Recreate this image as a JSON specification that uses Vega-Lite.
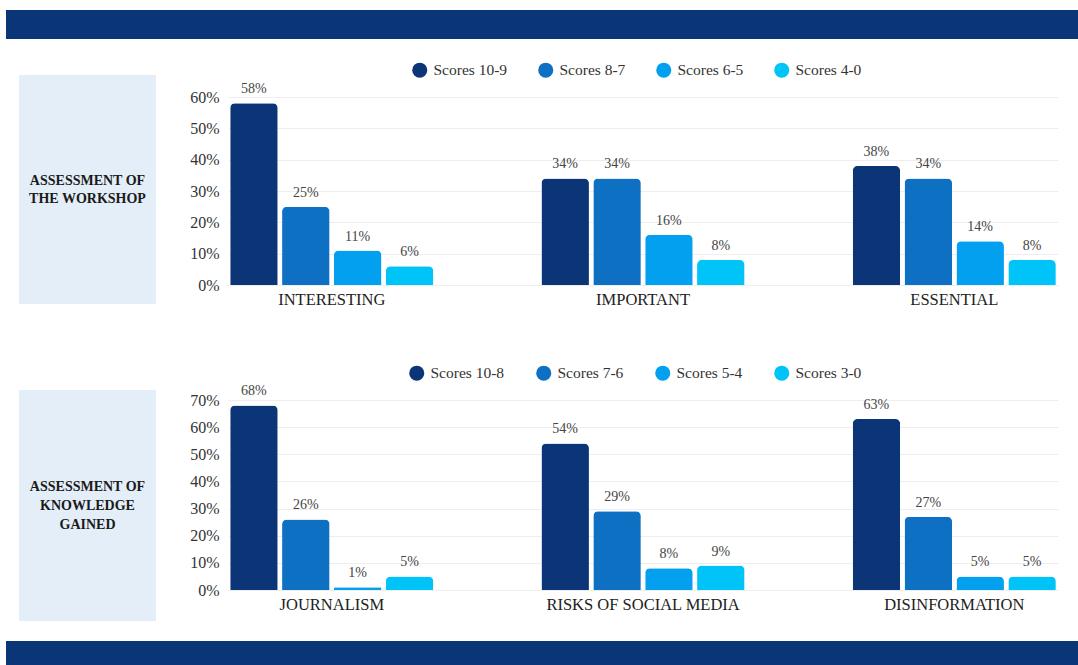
{
  "$schema": "https://vega.github.io/schema/vega-lite/v6.json",
  "padding": {"left": 6, "top": 10, "right": 0, "bottom": 0},
  "background": "white",
  "config": {
    "font": "Liberation Serif",
    "view": {"stroke": null},
    "axis": {"labelFont": "Liberation Serif"},
    "legend": {"labelFont": "Liberation Serif"}
  },
  "datasets": {
    "workshop": [
      {"category": "INTERESTING", "group": "Scores 10-9", "bar": "INTERESTING · Scores 10-9", "value": 0.58},
      {"category": "INTERESTING", "group": "Scores 8-7", "bar": "INTERESTING · Scores 8-7", "value": 0.25},
      {"category": "INTERESTING", "group": "Scores 6-5", "bar": "INTERESTING · Scores 6-5", "value": 0.11},
      {"category": "INTERESTING", "group": "Scores 4-0", "bar": "INTERESTING · Scores 4-0", "value": 0.06},
      {"category": "IMPORTANT", "group": "Scores 10-9", "bar": "IMPORTANT · Scores 10-9", "value": 0.34},
      {"category": "IMPORTANT", "group": "Scores 8-7", "bar": "IMPORTANT · Scores 8-7", "value": 0.34},
      {"category": "IMPORTANT", "group": "Scores 6-5", "bar": "IMPORTANT · Scores 6-5", "value": 0.16},
      {"category": "IMPORTANT", "group": "Scores 4-0", "bar": "IMPORTANT · Scores 4-0", "value": 0.08},
      {"category": "ESSENTIAL", "group": "Scores 10-9", "bar": "ESSENTIAL · Scores 10-9", "value": 0.38},
      {"category": "ESSENTIAL", "group": "Scores 8-7", "bar": "ESSENTIAL · Scores 8-7", "value": 0.34},
      {"category": "ESSENTIAL", "group": "Scores 6-5", "bar": "ESSENTIAL · Scores 6-5", "value": 0.14},
      {"category": "ESSENTIAL", "group": "Scores 4-0", "bar": "ESSENTIAL · Scores 4-0", "value": 0.08}
    ],
    "knowledge": [
      {"category": "JOURNALISM", "group": "Scores 10-8", "bar": "JOURNALISM · Scores 10-8", "value": 0.68},
      {"category": "JOURNALISM", "group": "Scores 7-6", "bar": "JOURNALISM · Scores 7-6", "value": 0.26},
      {"category": "JOURNALISM", "group": "Scores 5-4", "bar": "JOURNALISM · Scores 5-4", "value": 0.01},
      {"category": "JOURNALISM", "group": "Scores 3-0", "bar": "JOURNALISM · Scores 3-0", "value": 0.05},
      {"category": "RISKS OF SOCIAL MEDIA", "group": "Scores 10-8", "bar": "RISKS OF SOCIAL MEDIA · Scores 10-8", "value": 0.54},
      {"category": "RISKS OF SOCIAL MEDIA", "group": "Scores 7-6", "bar": "RISKS OF SOCIAL MEDIA · Scores 7-6", "value": 0.29},
      {"category": "RISKS OF SOCIAL MEDIA", "group": "Scores 5-4", "bar": "RISKS OF SOCIAL MEDIA · Scores 5-4", "value": 0.08},
      {"category": "RISKS OF SOCIAL MEDIA", "group": "Scores 3-0", "bar": "RISKS OF SOCIAL MEDIA · Scores 3-0", "value": 0.09},
      {"category": "DISINFORMATION", "group": "Scores 10-8", "bar": "DISINFORMATION · Scores 10-8", "value": 0.63},
      {"category": "DISINFORMATION", "group": "Scores 7-6", "bar": "DISINFORMATION · Scores 7-6", "value": 0.27},
      {"category": "DISINFORMATION", "group": "Scores 5-4", "bar": "DISINFORMATION · Scores 5-4", "value": 0.05},
      {"category": "DISINFORMATION", "group": "Scores 3-0", "bar": "DISINFORMATION · Scores 3-0", "value": 0.05}
    ]
  },
  "spacing": 0,
  "resolve": {"scale": {"color": "independent", "x": "independent", "y": "independent"}, "legend": {"color": "independent"}},
  "vconcat": [
    {
      "width": 1072, "height": 29,
      "view": {"fill": "#0a3678", "stroke": null},
      "data": {"values": [{}]},
      "mark": {"type": "text", "text": "", "fontSize": 0}
    },
    {
      "width": 1, "height": 22,
      "data": {"values": [{}]},
      "mark": {"type": "text", "text": "", "fontSize": 0}
    },
    {
      "spacing": 0,
      "resolve": {"scale": {"color": "independent", "x": "independent", "y": "independent"}, "legend": {"color": "independent"}},
      "hconcat": [
        {
          "width": 13, "height": 20,
          "data": {"values": [{}]},
          "mark": {"type": "text", "text": "", "fontSize": 0}
        },
        {
          "spacing": 0,
          "vconcat": [
            {
              "width": 1, "height": 14,
              "data": {"values": [{}]},
              "mark": {"type": "text", "text": "", "fontSize": 0}
            },
            {
              "width": 137, "height": 229,
              "view": {"fill": "#e3eef8", "stroke": null},
              "data": {"values": [{}]},
              "mark": {"type": "text", "text": ["ASSESSMENT OF", "THE WORKSHOP"], "font": "Liberation Serif", "fontWeight": "bold", "fontSize": 14, "lineHeight": 18, "dy": -9, "align": "center", "baseline": "middle", "color": "#1a1a1a"}
            }
          ]
        },
        {
          "width": 33, "height": 20,
          "data": {"values": [{}]},
          "mark": {"type": "text", "text": "", "fontSize": 0}
        },
        {
          "spacing": 0,
          "resolve": {"scale": {"color": "independent", "x": "independent", "y": "independent"}, "legend": {"color": "independent"}},
          "vconcat": [
            {
              "width": 1, "height": 1,
              "data": {"values": [{}]},
              "mark": {"type": "text", "text": "", "fontSize": 0}
            },
            {
              "width": 830, "height": 188,
              "data": {"name": "workshop"},
              "encoding": {
                "x": {"field": "bar", "type": "nominal",
                  "scale": {"domain": ["INTERESTING · Scores 10-9", "INTERESTING · Scores 8-7", "INTERESTING · Scores 6-5", "INTERESTING · Scores 4-0", "(gap a)", "(gap b)", "IMPORTANT · Scores 10-9", "IMPORTANT · Scores 8-7", "IMPORTANT · Scores 6-5", "IMPORTANT · Scores 4-0", "(gap c)", "(gap d)", "ESSENTIAL · Scores 10-9", "ESSENTIAL · Scores 8-7", "ESSENTIAL · Scores 6-5", "ESSENTIAL · Scores 4-0"], "paddingInner": 0, "paddingOuter": 0},
                  "axis": {"title": null, "values": ["INTERESTING · Scores 8-7", "IMPORTANT · Scores 8-7", "ESSENTIAL · Scores 8-7"], "labelExpr": "split(datum.value, ' · ')[0]", "labelOffset": 26, "labelAngle": 0, "ticks": false, "tickSize": 0, "domain": false, "grid": false, "labelPadding": 6, "labelFontSize": 16.5, "labelColor": "#222222", "labelLimit": 400}},
                "y": {"field": "value", "type": "quantitative",
                  "scale": {"domain": [0, 0.6], "nice": false},
                  "axis": {"title": null, "values": [0, 0.1, 0.2, 0.3, 0.4, 0.5, 0.6], "format": ".0%", "ticks": false, "tickSize": 0, "domain": false, "labelPadding": 9, "labelFontSize": 16, "labelColor": "#333333", "gridColor": "#eeeeee"}}
              },
              "layer": [
                {
                  "mark": {"type": "bar", "width": 47.5, "cornerRadiusTopLeft": 5, "cornerRadiusTopRight": 5},
                  "encoding": {
                    "color": {"field": "group", "type": "nominal",
                      "scale": {"domain": ["Scores 10-9", "Scores 8-7", "Scores 6-5", "Scores 4-0"], "range": ["#0b3577", "#0d70c2", "#04a0f0", "#00c4f8"]},
                      "legend": {"title": null, "orient": "none", "direction": "horizontal", "legendX": 184, "legendY": -35, "symbolType": "circle", "symbolSize": 225, "symbolStrokeWidth": 0, "labelFontSize": 15.5, "labelColor": "#333333", "labelOffset": 6, "columnPadding": 30}}
                  }
                },
                {
                  "mark": {"type": "text", "baseline": "bottom", "dy": -7, "fontSize": 14, "color": "#444444", "font": "Liberation Serif"},
                  "encoding": {"text": {"field": "value", "type": "quantitative", "format": ".0%"}}
                }
              ]
            }
          ]
        }
      ]
    },
    {
      "width": 1, "height": 56,
      "data": {"values": [{}]},
      "mark": {"type": "text", "text": "", "fontSize": 0}
    },
    {
      "spacing": 0,
      "resolve": {"scale": {"color": "independent", "x": "independent", "y": "independent"}, "legend": {"color": "independent"}},
      "hconcat": [
        {
          "width": 13, "height": 20,
          "data": {"values": [{}]},
          "mark": {"type": "text", "text": "", "fontSize": 0}
        },
        {
          "spacing": 0,
          "vconcat": [
            {
              "width": 1, "height": 26,
              "data": {"values": [{}]},
              "mark": {"type": "text", "text": "", "fontSize": 0}
            },
            {
              "width": 137, "height": 231,
              "view": {"fill": "#e3eef8", "stroke": null},
              "data": {"values": [{}]},
              "mark": {"type": "text", "text": ["ASSESSMENT OF", "KNOWLEDGE", "GAINED"], "font": "Liberation Serif", "fontWeight": "bold", "fontSize": 14, "lineHeight": 19, "dy": -19, "align": "center", "baseline": "middle", "color": "#1a1a1a"}
            }
          ]
        },
        {
          "width": 33, "height": 20,
          "data": {"values": [{}]},
          "mark": {"type": "text", "text": "", "fontSize": 0}
        },
        {
          "spacing": 0,
          "resolve": {"scale": {"color": "independent", "x": "independent", "y": "independent"}, "legend": {"color": "independent"}},
          "vconcat": [
            {
              "width": 1, "height": 1,
              "data": {"values": [{}]},
              "mark": {"type": "text", "text": "", "fontSize": 0}
            },
            {
              "width": 830, "height": 190,
              "data": {"name": "knowledge"},
              "encoding": {
                "x": {"field": "bar", "type": "nominal",
                  "scale": {"domain": ["JOURNALISM · Scores 10-8", "JOURNALISM · Scores 7-6", "JOURNALISM · Scores 5-4", "JOURNALISM · Scores 3-0", "(gap a)", "(gap b)", "RISKS OF SOCIAL MEDIA · Scores 10-8", "RISKS OF SOCIAL MEDIA · Scores 7-6", "RISKS OF SOCIAL MEDIA · Scores 5-4", "RISKS OF SOCIAL MEDIA · Scores 3-0", "(gap c)", "(gap d)", "DISINFORMATION · Scores 10-8", "DISINFORMATION · Scores 7-6", "DISINFORMATION · Scores 5-4", "DISINFORMATION · Scores 3-0"], "paddingInner": 0, "paddingOuter": 0},
                  "axis": {"title": null, "values": ["JOURNALISM · Scores 7-6", "RISKS OF SOCIAL MEDIA · Scores 7-6", "DISINFORMATION · Scores 7-6"], "labelExpr": "split(datum.value, ' · ')[0]", "labelOffset": 26, "labelAngle": 0, "ticks": false, "tickSize": 0, "domain": false, "grid": false, "labelPadding": 6, "labelFontSize": 16.5, "labelColor": "#222222", "labelLimit": 400}},
                "y": {"field": "value", "type": "quantitative",
                  "scale": {"domain": [0, 0.7], "nice": false},
                  "axis": {"title": null, "values": [0, 0.1, 0.2, 0.3, 0.4, 0.5, 0.6, 0.7], "format": ".0%", "ticks": false, "tickSize": 0, "domain": false, "labelPadding": 9, "labelFontSize": 16, "labelColor": "#333333", "gridColor": "#eeeeee"}}
              },
              "layer": [
                {
                  "mark": {"type": "bar", "width": 47.5, "cornerRadiusTopLeft": 5, "cornerRadiusTopRight": 5},
                  "encoding": {
                    "color": {"field": "group", "type": "nominal",
                      "scale": {"domain": ["Scores 10-8", "Scores 7-6", "Scores 5-4", "Scores 3-0"], "range": ["#0b3577", "#0d70c2", "#04a0f0", "#00c4f8"]},
                      "legend": {"title": null, "orient": "none", "direction": "horizontal", "legendX": 181, "legendY": -35, "symbolType": "circle", "symbolSize": 225, "symbolStrokeWidth": 0, "labelFontSize": 15.5, "labelColor": "#333333", "labelOffset": 6, "columnPadding": 31}}
                  }
                },
                {
                  "mark": {"type": "text", "baseline": "bottom", "dy": -7, "fontSize": 14, "color": "#444444", "font": "Liberation Serif"},
                  "encoding": {"text": {"field": "value", "type": "quantitative", "format": ".0%"}}
                }
              ]
            }
          ]
        }
      ]
    },
    {
      "width": 1, "height": 20,
      "data": {"values": [{}]},
      "mark": {"type": "text", "text": "", "fontSize": 0}
    },
    {
      "width": 1072, "height": 24,
      "view": {"fill": "#0a3678", "stroke": null},
      "data": {"values": [{}]},
      "mark": {"type": "text", "text": "", "fontSize": 0}
    }
  ]
}
